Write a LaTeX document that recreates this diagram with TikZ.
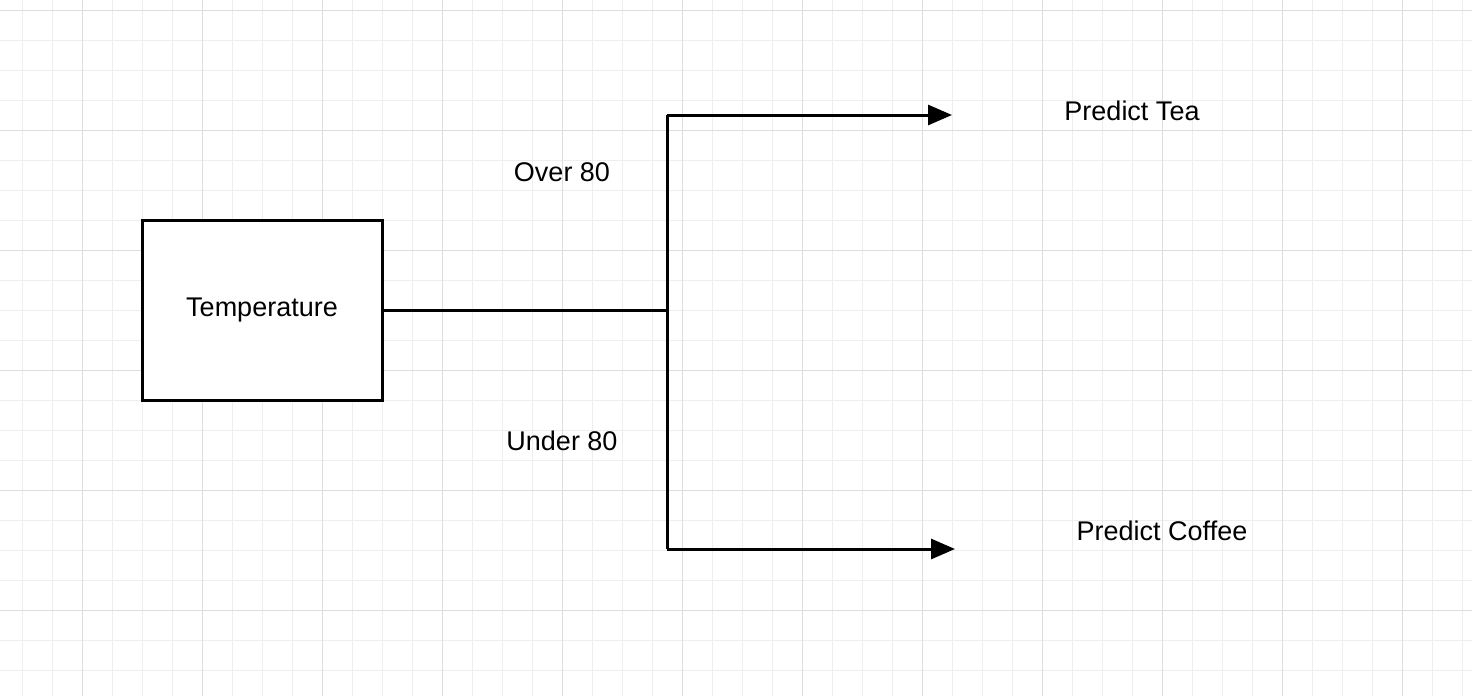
\documentclass[tikz,border=0pt]{standalone}
\usepackage{fontspec}
\setmainfont{Liberation Sans}
\usepackage{tikz}
\usetikzlibrary{arrows.meta}
\definecolor{gridminor}{HTML}{EEEEEE}
\definecolor{gridmajor}{HTML}{DDDDDD}
\tikzset{
  decbox/.style={draw, fill=white, line width=1.5pt, minimum width=120pt, minimum height=90pt, inner sep=0pt},
  lbl/.style={anchor=base, inner sep=0pt},
  branch/.style={line width=1.5pt, -{Triangle[length=12pt, width=10pt]}}
}
\begin{document}
\begin{tikzpicture}[x=0.5pt, y=-0.5pt, node font=\fontsize{13.5}{16}\selectfont]
			\useasboundingbox[fill=white] (0,0) rectangle (1472,696);
			\foreach \x in {22,52,...,1462} \draw[gridminor, line width=0.5pt] (\x,0) -- (\x,696);
			\foreach \y in {10,40,...,690} \draw[gridminor, line width=0.5pt] (0,\y) -- (1472,\y);
			\foreach \x in {82,202,...,1402} \draw[gridmajor, line width=0.5pt] (\x,0) -- (\x,696);
			\foreach \y in {10,130,...,610} \draw[gridmajor, line width=0.5pt] (0,\y) -- (1472,\y);
			
			\node[decbox] (temp) at (262,310) {};
			\node[lbl] at (262,316) {Temperature};
			\coordinate (fork) at (667,310);
			\coordinate (hi) at (667,115);
			\coordinate (lo) at (667,549);
			\coordinate (teaend) at (952,115);
			\coordinate (coffeeend) at (955,549);
			\draw[line width=1.5pt] (temp.east) -- (fork);
			\draw[line width=1.5pt] (hi) -- (lo);
			\draw[branch] (hi) -- (teaend);
			\draw[branch] (lo) -- (coffeeend);
			
			\node[lbl] (over) at (562,181) {Over 80};
			\node[lbl] (under) at (562,450) {Under 80};
			\node[lbl] (tea) at (1132,120) {Predict Tea};
			\node[lbl] (coffee) at (1162,540) {Predict Coffee};
		\end{tikzpicture}
\end{document}
